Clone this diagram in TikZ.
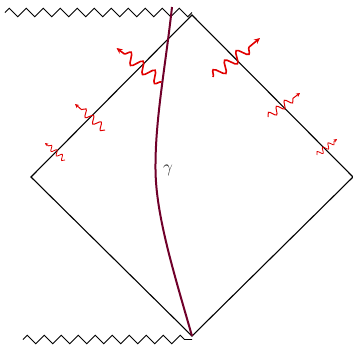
\documentclass[tikz,border=0pt]{standalone}
\usetikzlibrary{decorations.pathmorphing,arrows.meta}
\definecolor{gamcol}{RGB}{112,0,42}
\definecolor{wavecol}{RGB}{225,0,0}
\begin{document}
\begin{tikzpicture}[x=1pt,y=-1pt,
  edge/.style={line width=1.1pt,black},
  zz/.style={line width=0.8pt,black,decorate,decoration={zigzag,segment length=17pt,amplitude=4.2pt}},
  gam/.style={line width=2pt,gamcol},
  bigwave/.style={line width=1.6pt,wavecol,-{Stealth[length=6pt,width=5.5pt]},decorate,
     decoration={snake,amplitude=5.5pt,segment length=15pt,post length=7pt}},
  midwave/.style={line width=1.0pt,wavecol,-{Stealth[length=4pt,width=4pt]},decorate,
     decoration={snake,amplitude=3.6pt,segment length=10pt,post length=4.5pt}},
  smallwave/.style={line width=0.8pt,wavecol,-{Stealth[length=3.2pt,width=3.2pt]},decorate,
     decoration={snake,amplitude=2.6pt,segment length=7pt,post length=3.5pt}}]
\useasboundingbox (0,0) rectangle (353,346);
% diamond vertices
\coordinate (T) at (192,15);
\coordinate (L) at (31,177);
\coordinate (R) at (353,177);
\coordinate (B) at (192,336);
% singularities
\coordinate (zt1) at (5,12.5);
\coordinate (zt2) at (192,12.5);
\coordinate (zb1) at (23,339.5);
\coordinate (zb2) at (192,339.5);
\draw[zz] (zt1) -- (zt2);
\draw[zz] (zb1) -- (zb2);
% diamond
\draw[edge] (T) -- (R) -- (B) -- (L) -- cycle;
% wavy arrows, left edge
\coordinate (wl1s) at (161.5,82);
\coordinate (wl1e) at (116.5,48);
\coordinate (wl2s) at (105,130);
\coordinate (wl2e) at (75,104);
\coordinate (wl3s) at (65,160);
\coordinate (wl3e) at (45,143);
% wavy arrows, right edge
\coordinate (wr1s) at (213,77);
\coordinate (wr1e) at (260,38);
\coordinate (wr2s) at (268,117);
\coordinate (wr2e) at (300,93);
\coordinate (wr3s) at (317,155);
\coordinate (wr3e) at (337,139);
\draw[bigwave] (wl1s) -- (wl1e);
\draw[midwave] (wl2s) -- (wl2e);
\draw[smallwave] (wl3s) -- (wl3e);
\draw[bigwave] (wr1s) -- (wr1e);
\draw[midwave] (wr2s) -- (wr2e);
\draw[smallwave] (wr3s) -- (wr3e);
% worldline gamma
\coordinate (gtop) at (172,7);
\coordinate (gmid) at (155.5,170);
\draw[gam] (gtop) .. controls (165,70) and (155,120) .. (gmid)
  .. controls (156,215) and (173,270) .. (B);
\node[font=\fontsize{19}{22}\selectfont,text=black!85] (glab) at (168,170) {$\gamma$};
\end{tikzpicture}
\end{document}
